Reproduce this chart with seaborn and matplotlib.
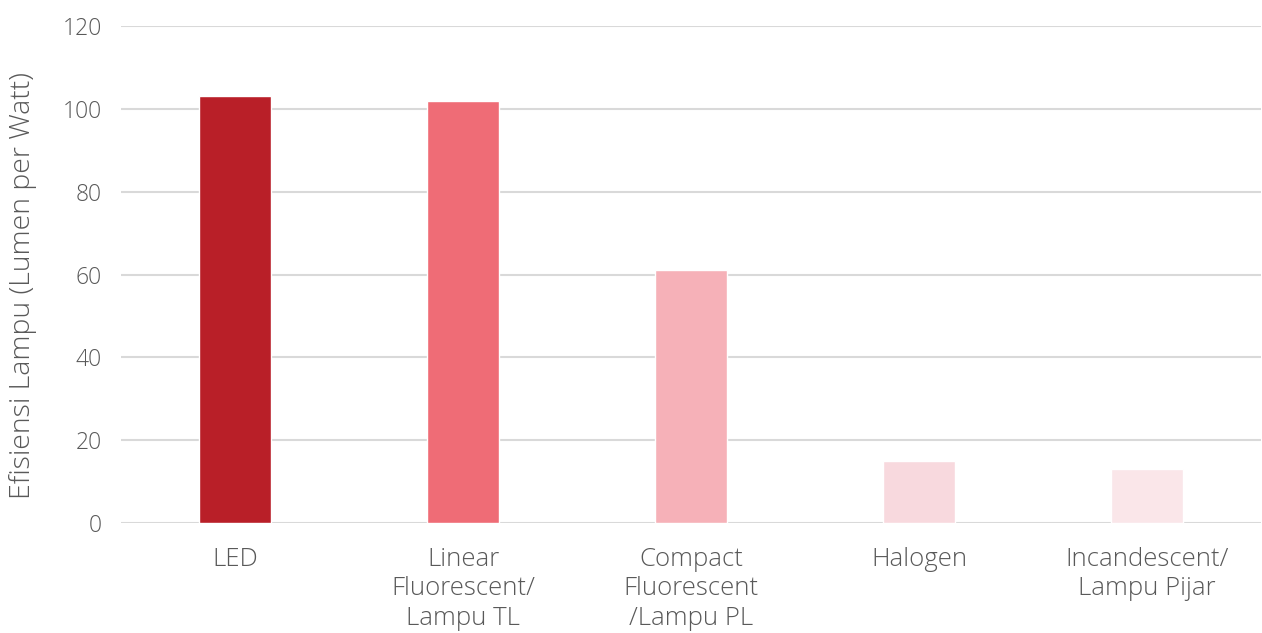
import matplotlib
matplotlib.use("Agg")
import matplotlib.pyplot as plt
import seaborn as sns
import pandas as pd

categories = ["LED", "Linear\nFluorescent/\nLampu TL", "Compact\nFluorescent\n/Lampu PL",
              "Halogen", "Incandescent/\nLampu Pijar"]
efficiency = [103, 102, 61, 15, 13]
colors = ["#B91F28", "#EF6C76", "#F6B1B8", "#F8D9DE", "#FAE6E9"]
yticks = [0, 20, 40, 60, 80, 100, 120]

sns.set_theme(style="white")
plt.rcParams["font.family"] = ["Open Sans", "DejaVu Sans"]

df = pd.DataFrame({"kategori": categories, "efisiensi": efficiency})

fig = plt.figure(figsize=(12.62, 6.33), dpi=100)
ax = fig.add_axes([121 / 1262, 1 - 523 / 633, (1261 - 121) / 1262, (523 - 26) / 633])

sns.barplot(data=df, x="kategori", y="efisiensi", hue="kategori", palette=colors,
            width=0.32, legend=False, ax=ax, saturation=1)

ax.set_ylim(0, 120)
ax.set_xlim(-0.5, len(categories) - 0.5)
ax.set_yticks(yticks)
ax.yaxis.grid(True, color="#D9D9D9", linewidth=1.5)
ax.set_axisbelow(True)
for s in ax.spines.values():
    s.set_visible(False)

text_color = "#595959"
ax.tick_params(axis="y", labelsize=16.5, colors=text_color, length=0, pad=14)
ax.tick_params(axis="x", labelsize=18.5, colors=text_color, length=0, pad=17)
for lbl in ax.get_xticklabels():
    lbl.set_linespacing(1.25)
    lbl.set_fontweight("light")
for lbl in ax.get_yticklabels():
    lbl.set_fontweight("light")
ax.set_xlabel("")
ax.set_ylabel("Efisiensi Lampu (Lumen per Watt)", fontsize=20.5, color=text_color,
              fontweight="light")
ax.yaxis.set_label_coords(-0.074, 0.477)

fig.savefig("out.png", dpi=100)
